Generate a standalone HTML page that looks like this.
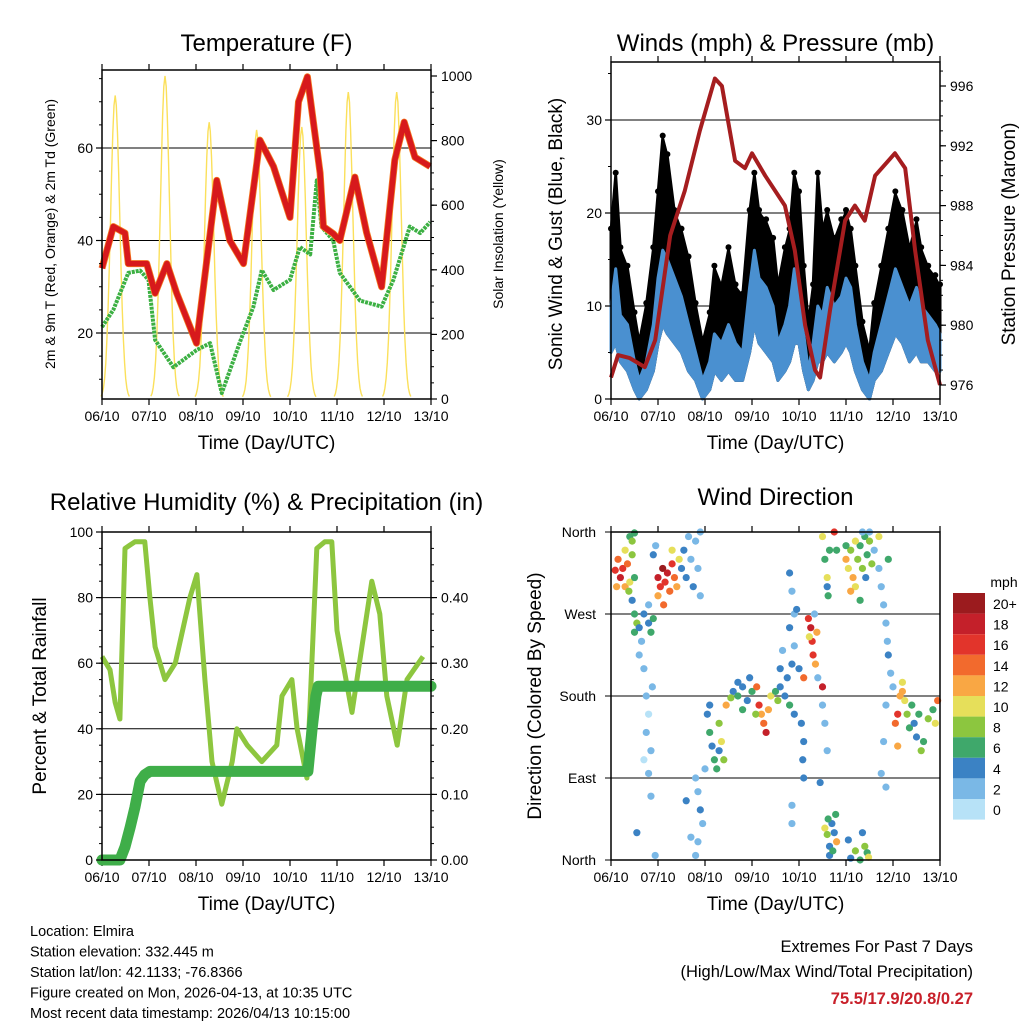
<!DOCTYPE html>
<html><head><meta charset="utf-8"><style>
html,body{margin:0;padding:0;background:#fff;}
svg{display:block;font-family:"Liberation Sans",sans-serif;}
</style></head><body>
<svg id="chart" width="1024" height="1024" viewBox="0 0 1024 1024">
<g id="g"></g>
</svg>
<script>
// ---------- Temperature panel data ----------
const tempDays=[0,0.24,0.49,0.56,0.95,1.13,1.38,1.59,2.01,2.44,2.72,3.01,3.36,3.65,4.0,4.18,4.37,4.64,4.71,4.92,5.06,5.38,5.63,5.95,6.23,6.43,6.66,6.98];
const tempVals=[34,43,41.6,35,35,28.6,35,28.6,17.8,53,40,35,61.7,56,45,70,75.4,54.6,43,41.5,40,53.7,41.7,30,57.4,65.6,58,56];
const dewDays=[0,0.24,0.56,0.81,0.99,1.13,1.52,2.01,2.3,2.55,2.94,3.22,3.4,3.65,4.0,4.21,4.43,4.57,4.67,4.92,5.06,5.49,5.95,6.2,6.55,6.77,6.98];
const dewVals=[21.3,25,33,33.5,31.5,18.5,12.6,16.3,17.8,7,18.2,25.6,33.6,29.3,31.5,38.6,37,53,43,40,33,27,25.7,31.5,43,41.6,44];
const solarDays=[0.28,1.34,2.28,3.29,4.25,5.24,6.27];
const solarPeaks=[940,1000,857,833,842,950,950];
// ---------- Winds panel data ----------
const windDays=[0,0.1,0.2,0.35,0.5,0.6,0.75,0.9,1.0,1.1,1.2,1.35,1.5,1.65,1.8,1.95,2.1,2.2,2.35,2.5,2.65,2.8,2.95,3.05,3.15,3.3,3.45,3.55,3.7,3.8,3.9,4.0,4.1,4.2,4.3,4.4,4.5,4.6,4.75,4.9,5.0,5.1,5.2,5.35,5.5,5.6,5.75,5.9,6.05,6.2,6.35,6.5,6.6,6.75,6.9,7.0];
const windVals=[10,14,9,8,4,2,4,8,13,16,15,13,11,8,5,2,4,7,6,8,6,5,12,16,13,12,10,6,8,10,14,13,7,3,6,10,9,12,10,11,13,12,8,4,2,5,8,11,14,12,10,12,10,9,8,7];
const windLowVals=[5,6,4,3,1,0,1,3,6,8,7,6,5,3,2,0,1,3,2,3,2,2,5,8,6,5,4,2,3,4,6,6,3,1,2,4,4,5,4,5,6,5,3,1,0,2,3,5,7,6,4,5,4,4,3,3];
const gustVals=[18,24,16,14,9,6,10,16,22,28,26,20,18,15,10,6,9,14,12,16,12,11,20,24,20,19,17,12,16,18,24,22,14,8,12,24,18,20,17,19,20,18,14,8,5,10,14,18,22,20,16,19,16,14,13,12];
const presDays=[0,0.15,0.4,0.72,0.94,1.26,1.57,1.89,2.21,2.36,2.64,2.85,3.0,3.28,3.7,3.91,4.13,4.34,4.45,4.66,4.98,5.19,5.4,5.62,6.04,6.26,6.47,6.74,7.0];
const presVals=[976.5,978,977.8,977.2,979,986,989,993,996.5,996,991,990.5,991.5,990,988,985,980,977,976.5,981,987,988,987,990,991.5,990.5,985,979,976];
// ---------- RH / precip data ----------
const rhDays=[0,0.17,0.28,0.38,0.49,0.7,0.91,1.02,1.13,1.34,1.56,1.87,2.02,2.19,2.34,2.55,2.77,2.87,3.09,3.4,3.72,3.83,4.04,4.15,4.36,4.57,4.74,4.89,5.0,5.32,5.53,5.74,5.91,6.06,6.28,6.49,6.83];
const rhVals=[62,58,48,43,95,97,97,80,65,55,60,80,87,55,30,17,30,40,35,30,35,50,55,40,25,95,97,97,70,45,65,85,75,50,35,55,62];
const rainDays=[0,0.38,0.49,0.6,0.7,0.81,0.91,1.02,4.38,4.47,4.55,4.6,7.0];
const rainVals=[0,0,0.02,0.05,0.08,0.12,0.13,0.135,0.135,0.2,0.25,0.265,0.265];
// ---------- Wind direction data ----------
const dirDays=[0.09,0.15,0.2,0.25,0.3,0.35,0.4,0.45,0.5,0.12,0.3,0.38,0.4,0.45,0.5,0.45,0.5,0.55,0.5,0.6,0.65,0.7,0.8,0.85,0.9,0.8,0.6,0.7,0.75,0.8,0.75,0.85,0.8,0.85,0.7,0.55,0.94,0.88,0.9,0.95,1.0,1.05,1.1,1.15,1.2,1.25,1.3,1.35,1.4,1.45,1.0,1.12,1.3,1.5,1.6,1.7,1.75,1.8,1.85,1.9,1.55,1.65,1.9,1.8,1.85,1.9,1.95,1.85,1.7,1.8,1.6,2.05,2.1,2.15,2.2,2.25,2.3,2.35,2.4,2.45,2.1,2.3,2.0,2.6,2.7,2.8,2.9,3.0,2.7,2.55,2.95,2.8,3.1,3.15,3.2,3.25,3.3,3.35,3.4,3.08,3.5,3.55,3.6,3.7,3.75,3.8,3.9,3.6,3.65,3.8,3.85,3.9,3.8,3.9,3.85,4.0,4.05,4.1,4.08,4.1,3.85,3.85,3.95,4.1,4.2,4.25,4.28,4.3,4.35,4.22,4.38,4.33,4.4,4.5,4.55,4.6,4.45,4.5,4.55,4.6,4.65,4.7,4.75,4.78,4.8,4.65,4.72,4.62,5.2,5.3,5.4,5.45,5.35,5.48,5.1,5.05,4.5,4.55,4.6,4.62,4.65,4.75,4.8,4.6,5.0,5.05,5.1,5.15,5.2,5.25,5.3,5.35,5.4,5.45,5.5,5.55,5.2,5.1,5.3,5.42,5.0,5.5,5.35,5.6,5.7,5.75,5.8,5.85,5.88,5.9,5.95,6.0,5.85,5.8,5.75,5.85,5.9,5.7,6.05,6.1,6.15,6.2,6.25,6.3,6.35,6.4,6.45,6.5,6.55,6.6,6.65,6.75,6.85,6.9,6.95,6.1,6.2];
const dirDegs=[318,330,310,320,300,325,305,335,310,300,340,295,355,350,359,285,270,260,250,255,240,270,260,250,265,280,225,210,180,160,140,120,95,70,110,30,5,190,335,345,310,300,320,305,315,295,325,310,300,330,290,280,340,320,310,330,300,350,320,290,340,355,360,90,75,55,40,20,25,5,65,160,140,125,110,100,150,130,110,170,170,120,100,185,180,190,175,185,195,178,200,165,190,170,160,150,140,165,180,160,185,175,190,180,200,170,160,210,230,315,295,270,255,235,215,210,150,130,110,90,60,40,275,200,265,255,240,225,215,245,250,270,200,170,150,120,85,190,35,28,15,40,30,50,20,5,10,45,10,0,15,8,30,3,2,22,355,330,300,290,340,360,340,310,330,320,340,310,300,330,345,320,355,335,350,325,350,295,285,310,345,360,360,340,320,300,280,260,240,225,205,190,170,130,95,80,330,355,150,160,180,185,175,160,145,170,150,135,160,120,130,155,165,150,175,125,195];
const dirSpeeds=[16,14,18,16,12,14,10,8,6,12,10,8,6,8,6,4,6,8,6,4,2,4,4,6,6,2,2,2,2,0,2,2,2,2,0,4,2,2,4,2,18,16,20,16,18,14,16,14,12,10,12,14,10,4,4,2,4,2,2,2,4,2,2,2,2,4,2,2,2,2,4,4,6,4,6,6,8,10,8,12,4,4,2,4,6,4,4,6,4,8,4,6,14,16,12,14,18,12,10,8,6,8,4,4,4,6,4,4,2,4,2,2,4,2,4,4,4,4,4,4,2,2,4,14,16,18,16,16,12,10,12,2,2,2,2,2,4,18,10,8,4,4,4,6,12,4,6,6,8,6,8,6,4,10,4,4,10,6,4,6,6,16,6,10,12,10,8,12,10,8,6,8,6,6,8,8,10,12,6,4,6,2,2,2,2,2,2,2,2,4,2,2,2,2,2,2,6,10,14,16,12,12,10,8,6,6,4,4,6,8,6,8,6,10,14,12,10,8,6];
const cbLabels=["20+","18","16","14","12","10","8","6","4","2","0"];
const cbColors=["#9b1b1e","#c4202a","#e2342b","#f26a2d","#f9a744","#e6df5a","#8cc63f","#3fa86b","#3b82c4","#7ab8e6","#b7e2f7"];

const NS="http://www.w3.org/2000/svg";
const G=document.getElementById('g');
function mk(tag,attrs,parent){const e=document.createElementNS(NS,tag);for(const k in attrs)e.setAttribute(k,attrs[k]);(parent||G).appendChild(e);return e;}
function txt(s,x,y,size,anchor,rot,color,weight){const a={x:x,y:y,'font-size':size,'text-anchor':anchor||'middle',fill:color||'#000'};if(rot)a.transform='rotate('+rot+' '+x+' '+y+')';if(weight)a['font-weight']=weight;const t=mk('text',a);t.textContent=s;return t;}
function lin(d0,d1,p0,p1){return v=>p0+(v-d0)*(p1-p0)/(d1-d0);}
function path(xs,ys,fx,fy){return xs.map((v,i)=>(i?'L':'M')+fx(v).toFixed(1)+','+fy(ys[i]).toFixed(1)).join('');}
function band(xs,lo,hi,fx,fy){let d=xs.map((v,i)=>(i?'L':'M')+fx(v).toFixed(1)+','+fy(hi[i]).toFixed(1)).join('');for(let i=xs.length-1;i>=0;i--)d+='L'+fx(xs[i]).toFixed(1)+','+fy(lo[i]).toFixed(1);return d+'Z';}
const dateLabels=["06/10","07/10","08/10","09/10","10/10","11/10","12/10","13/10"];

function panel(name,x0,y0,x1,y1,title,ty){
  const grp=mk('g',{});
  
  
  const t=txt(title,(x0+x1)/2,ty,24,'middle');
  
  
  const fx=lin(0,7,x0,x1);
  for(let i=0;i<8;i++){
    const x=fx(i);
    mk('line',{x1:x,y1:y1,x2:x,y2:y1+6,stroke:'#000','stroke-width':1.2});
    mk('line',{x1:x,y1:y0,x2:x,y2:y0-6,stroke:'#000','stroke-width':1.2});
    const l=txt(dateLabels[i],x,y1+22,14,'middle');
    
    
  }
  const xt=txt('Time (Day/UTC)',(x0+x1)/2,y1+50,19,'middle');
  
  
  return fx;
}
function frame(x0,y0,x1,y1){
  const r=mk('rect',{x:x0,y:y0,width:x1-x0,height:y1-y0,fill:'none',stroke:'#000','stroke-width':1.5});
  
  
}
function yticks(vals,fy,x,side,fmt,size,minorStep,minorRange){
  vals.forEach(v=>{const y=fy(v);mk('line',{x1:x,y1:y,x2:x+(side<0?-6:6),y2:y,stroke:'#000','stroke-width':1.2});
    const l=txt(fmt(v),x+(side<0?-9:10),y+5,size||14,side<0?'end':'start');
    
    });
  if(minorStep){for(let v=minorRange[0];v<=minorRange[1];v+=minorStep){const y=fy(v);mk('line',{x1:x,y1:y,x2:x+(side<0?-3:3),y2:y,stroke:'#000','stroke-width':1});}}
}
function grid(vals,fy,x0,x1){vals.forEach(v=>{const y=fy(v);mk('line',{x1:x0,y1:y,x2:x1,y2:y,stroke:'#000','stroke-width':1});});}

// ===== Panel 1: Temperature =====
(function(){
  const x0=102,x1=431,y0=70,y1=399;
  const fx=panel('temperature-panel',x0,y0,x1,y1,'Temperature (F)',51);
  const fy=lin(20,60,333,148);
  const fs=lin(0,1000,399,76);
  grid([20,40,60],fy,x0,x1);
  solarDays.forEach((d,i)=>{
    const pts=[];
    for(let k=-12;k<=12;k++){const dd=d+k*0.025;const w=Math.exp(-Math.pow(k/6,2)*1.2);pts.push([dd,solarPeaks[i]*w]);}
    const p=mk('path',{d:path(pts.map(p=>p[0]),pts.map(p=>p[1]),fx,fs),fill:'none',stroke:'#fbe05b','stroke-width':1.4});
    
    
  });
  const dp=mk('path',{d:path(dewDays,dewVals,fx,fy),fill:'none',stroke:'#3cb043','stroke-width':4,'stroke-dasharray':'3 1','stroke-linejoin':'round'});
  
  
  const t9=mk('path',{d:path(tempDays,tempVals,fx,fy),fill:'none',stroke:'#f47a20','stroke-width':7,'stroke-linejoin':'round'});
  
  
  const t2=mk('path',{d:path(tempDays,tempVals,fx,fy),fill:'none',stroke:'#d7191c','stroke-width':5.5,'stroke-linejoin':'round'});
  
  
  frame(x0,y0,x1,y1);
  yticks([20,40,60],fy,x0,-1,v=>v,14,5,[10,75]);
  yticks([0,200,400,600,800,1000],fs,x1,1,v=>v,14,50,[0,1000]);
  const yl=txt('2m & 9m T (Red, Orange) & 2m Td (Green)',55,234,14,'middle',-90);
  
  
  const yr=txt('Solar Insolation (Yellow)',503,234,14,'middle',-90);
  
  
})();

// ===== Panel 2: Winds & Pressure =====
(function(){
  const x0=611,x1=940,y0=62,y1=399;
  const fx=panel('winds-panel',x0,y0,x1,y1,'Winds (mph) & Pressure (mb)',51);
  const fy=lin(0,30,399,120);
  const fp=lin(976,996,385,86);
  grid([10,20,30],fy,x0,x1);
  const gb=mk('path',{d:band(windDays,windLowVals,gustVals,fx,fy),fill:'#000',stroke:'#000','stroke-width':3,'stroke-linejoin':'round'});
  
  
  windDays.forEach((d,i)=>{
    const c=mk('circle',{cx:fx(d),cy:fy(gustVals[i])-3,r:3,fill:'#000'});
    
    
  });
  const wb=mk('path',{d:band(windDays,windLowVals,windVals,fx,fy),fill:'#4a90d0',stroke:'#4a90d0','stroke-width':3,'stroke-linejoin':'round'});
  
  
  const pl=mk('path',{d:path(presDays,presVals,fx,fp),fill:'none',stroke:'#a51d1f','stroke-width':4,'stroke-linejoin':'round'});
  
  
  frame(x0,y0,x1,y1);
  yticks([0,10,20,30],fy,x0,-1,v=>v,14,5,[0,35]);
  yticks([976,980,984,988,992,996],fp,x1,1,v=>v,14,1,[976,997]);
  const yl=txt('Sonic Wind & Gust (Blue, Black)',562,234,19,'middle',-90);
  
  
  const yr=txt('Station Pressure (Maroon)',1015,234,19,'middle',-90);
  
  
})();

// ===== Panel 3: RH & Precip =====
(function(){
  const x0=102,x1=431,y0=532,y1=860;
  const fx=panel('humidity-panel',x0,y0,x1,y1,'Relative Humidity (%) & Precipitation (in)',510);
  const fy=lin(0,100,860,532);
  const fr=lin(0,0.5,860,532);
  grid([20,40,60,80],fy,x0,x1);
  const rh=mk('path',{d:path(rhDays,rhVals,fx,fy),fill:'none',stroke:'#8dc63f','stroke-width':5,'stroke-linejoin':'round'});
  
  
  const rn=mk('path',{d:path(rainDays,rainVals,fx,fr),fill:'none',stroke:'#3fae49','stroke-width':11,'stroke-linejoin':'round','stroke-linecap':'round'});
  
  
  frame(x0,y0,x1,y1);
  yticks([0,20,40,60,80,100],fy,x0,-1,v=>v,14,5,[0,100]);
  yticks([0,0.1,0.2,0.3,0.4],fr,x1,1,v=>v.toFixed(2),14,0.025,[0,0.5]);
  const yl=txt('Percent & Total Rainfall',46,696,19,'middle',-90);
  
  
})();

// ===== Panel 4: Wind Direction =====
(function(){
  const x0=611,x1=940,y0=532,y1=860;
  const fx=panel('wind-direction-panel',x0,y0,x1,y1,'Wind Direction',505);
  const fy=lin(0,360,860,532);
  grid([90,180,270],fy,x0,x1);
  dirDays.forEach((d,i)=>{
    const s=(dirSpeeds[i]===undefined)?6:dirSpeeds[i];
    const bin=Math.max(0,Math.min(10,Math.floor(s/2)));
    const c=mk('circle',{cx:fx(d),cy:fy(dirDegs[i]),r:3.6,fill:cbColors[10-bin]});
    
    
  });
  frame(x0,y0,x1,y1);
  const names=['North','East','South','West','North'];
  [0,90,180,270,360].forEach((v,i)=>{const y=fy(v);mk('line',{x1:x0,y1:y,x2:x0-6,y2:y,stroke:'#000'});
    const l=txt(names[i],x0-15,y+5,14,'end');
    
    });
  const yl=txt('Direction (Colored By Speed)',541,696,19,'middle',-90);
  
  
  const ct=txt('mph',1004,587,14,'middle');
  
  
  cbLabels.forEach((lab,i)=>{
    const y=593+i*20.6;
    const r=mk('rect',{x:953,y:y,width:32,height:20.6,fill:cbColors[i]});
    
    
    const l=txt(lab,993,y+16,14,'start');
    
    
  });
})();

// ===== footer text =====
const info=["Location: Elmira","Station elevation: 332.445 m","Station lat/lon: 42.1133; -76.8366","Figure created on Mon, 2026-04-13, at 10:35 UTC","Most recent data timestamp: 2026/04/13 10:15:00"];
info.forEach((s,i)=>{const t=txt(s,30,936+i*20.5,14.5,'start');
  
  });
const e1=txt('Extremes For Past 7 Days',973,952,16.5,'end');


const e2=txt('(High/Low/Max Wind/Total Precipitation)',973,977,16.5,'end');


const e3=txt('75.5/17.9/20.8/0.27',973,1004,16.5,'end','','#c8202a','bold');


</script>
</body></html>
